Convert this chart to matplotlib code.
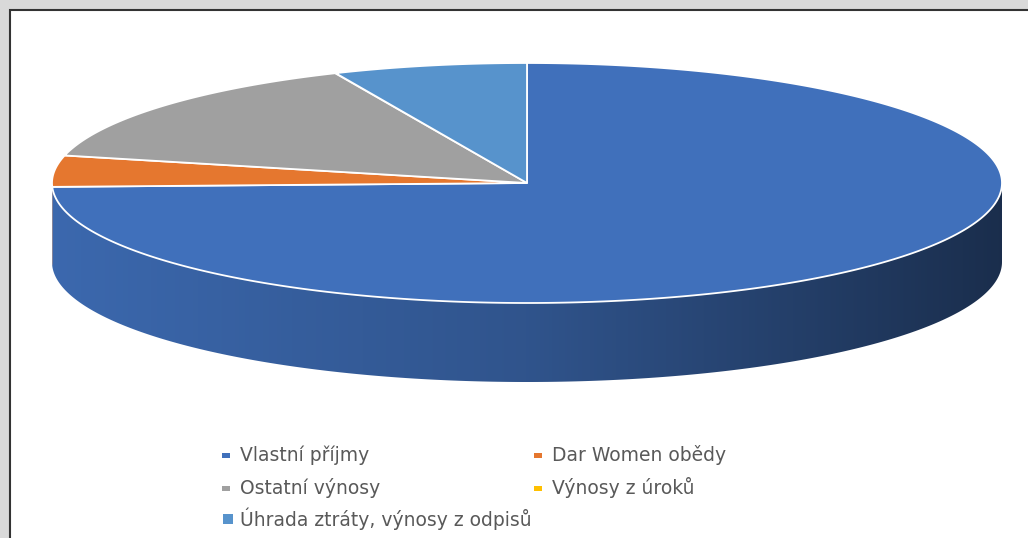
import numpy as np
import matplotlib
matplotlib.use('Agg')
import matplotlib.pyplot as plt
from matplotlib.patches import Polygon, Rectangle
from matplotlib.colors import to_rgb

labels = ['Vlastní příjmy', 'Dar Women obědy', 'Ostatní výnosy',
          'Výnosy z úroků', 'Úhrada ztráty, výnosy z odpisů']
values = [74.5, 4.2, 14.7, 0.02, 6.6]
colors = ['#4070bb', '#e5772f', '#a0a0a0', '#ffc000', '#5793cc']

W, H = 1028, 538
fig = plt.figure(figsize=(W/100, H/100), dpi=100, facecolor='#d9d9d9')

ax = fig.add_axes([0, 0, 1, 1])
ax.patch.set_alpha(0)
ax.axis('off')

# white chart area, only left/top border visible (rest is cropped)
ax.add_patch(Rectangle((9.5, 9.5), W + 20, H + 20, facecolor='white',
                       edgecolor='#333333', lw=1.5, zorder=0))

# pie geometry (pixels)
cx, cy, a, b, depth = 527, 183, 475, 120, 79

fracs = np.array(values) / sum(values)
cum = np.concatenate([[0], np.cumsum(fracs)])
t_hi = 90 - cum[:-1] * 360
t_lo = 90 - cum[1:] * 360

def pts(t, dy=0):
    r = np.radians(t)
    return np.column_stack([cx + a*np.cos(r), cy - b*np.sin(r) + dy])

# side (front half only), shaded left -> right
gx = np.linspace(0, 1, 256)
shade = np.interp(gx, [0, 0.5, 0.8, 1], [0.93, 0.75, 0.55, 0.41])
for i, c in enumerate(colors):
    lo, hi = max(t_lo[i], -180), min(t_hi[i], 0)
    if hi <= lo:
        continue
    ts = np.linspace(lo, hi, 300)
    poly = np.vstack([pts(ts), pts(ts[::-1], depth)])
    patch = Polygon(poly, closed=True, facecolor='none', edgecolor='none')
    ax.add_patch(patch)
    img = np.array(to_rgb(c))[None, None, :] * shade[None, :, None]
    img = np.repeat(img, 2, axis=0)
    im = ax.imshow(img, extent=(cx - a, cx + a, cy + b + depth + 2, cy - b),
                   aspect='auto', interpolation='bilinear', zorder=1)
    im.set_clip_path(patch)

# top face
for i, c in enumerate(colors):
    if values[i] <= 0.05:
        continue
    ts = np.linspace(t_lo[i], t_hi[i], 400)
    poly = np.vstack([[cx, cy], pts(ts)])
    ax.add_patch(Polygon(poly, closed=True, facecolor=c, edgecolor='white',
                         lw=1.3, joinstyle='miter', zorder=3))

# legend, row-major in two columns
col_x = [240, 552]
row_y = [455, 488, 519]
for i, lab in enumerate(labels):
    x, y = col_x[i % 2], row_y[i // 2]
    if i == 4:
        w, h, mx = 10, 10, x - 17
    else:
        w, h, mx = 8, 5, x - 18
    ax.add_patch(Rectangle((mx, y - h/2), w, h, facecolor=colors[i],
                           edgecolor='none', zorder=4))
    ax.text(x, y, lab, fontsize=13.5, family='DejaVu Sans', color='#595959',
            va='center', ha='left', zorder=4)

ax.set_xlim(0, W)
ax.set_ylim(H, 0)
fig.savefig('out.png', dpi=100, facecolor=fig.get_facecolor())
